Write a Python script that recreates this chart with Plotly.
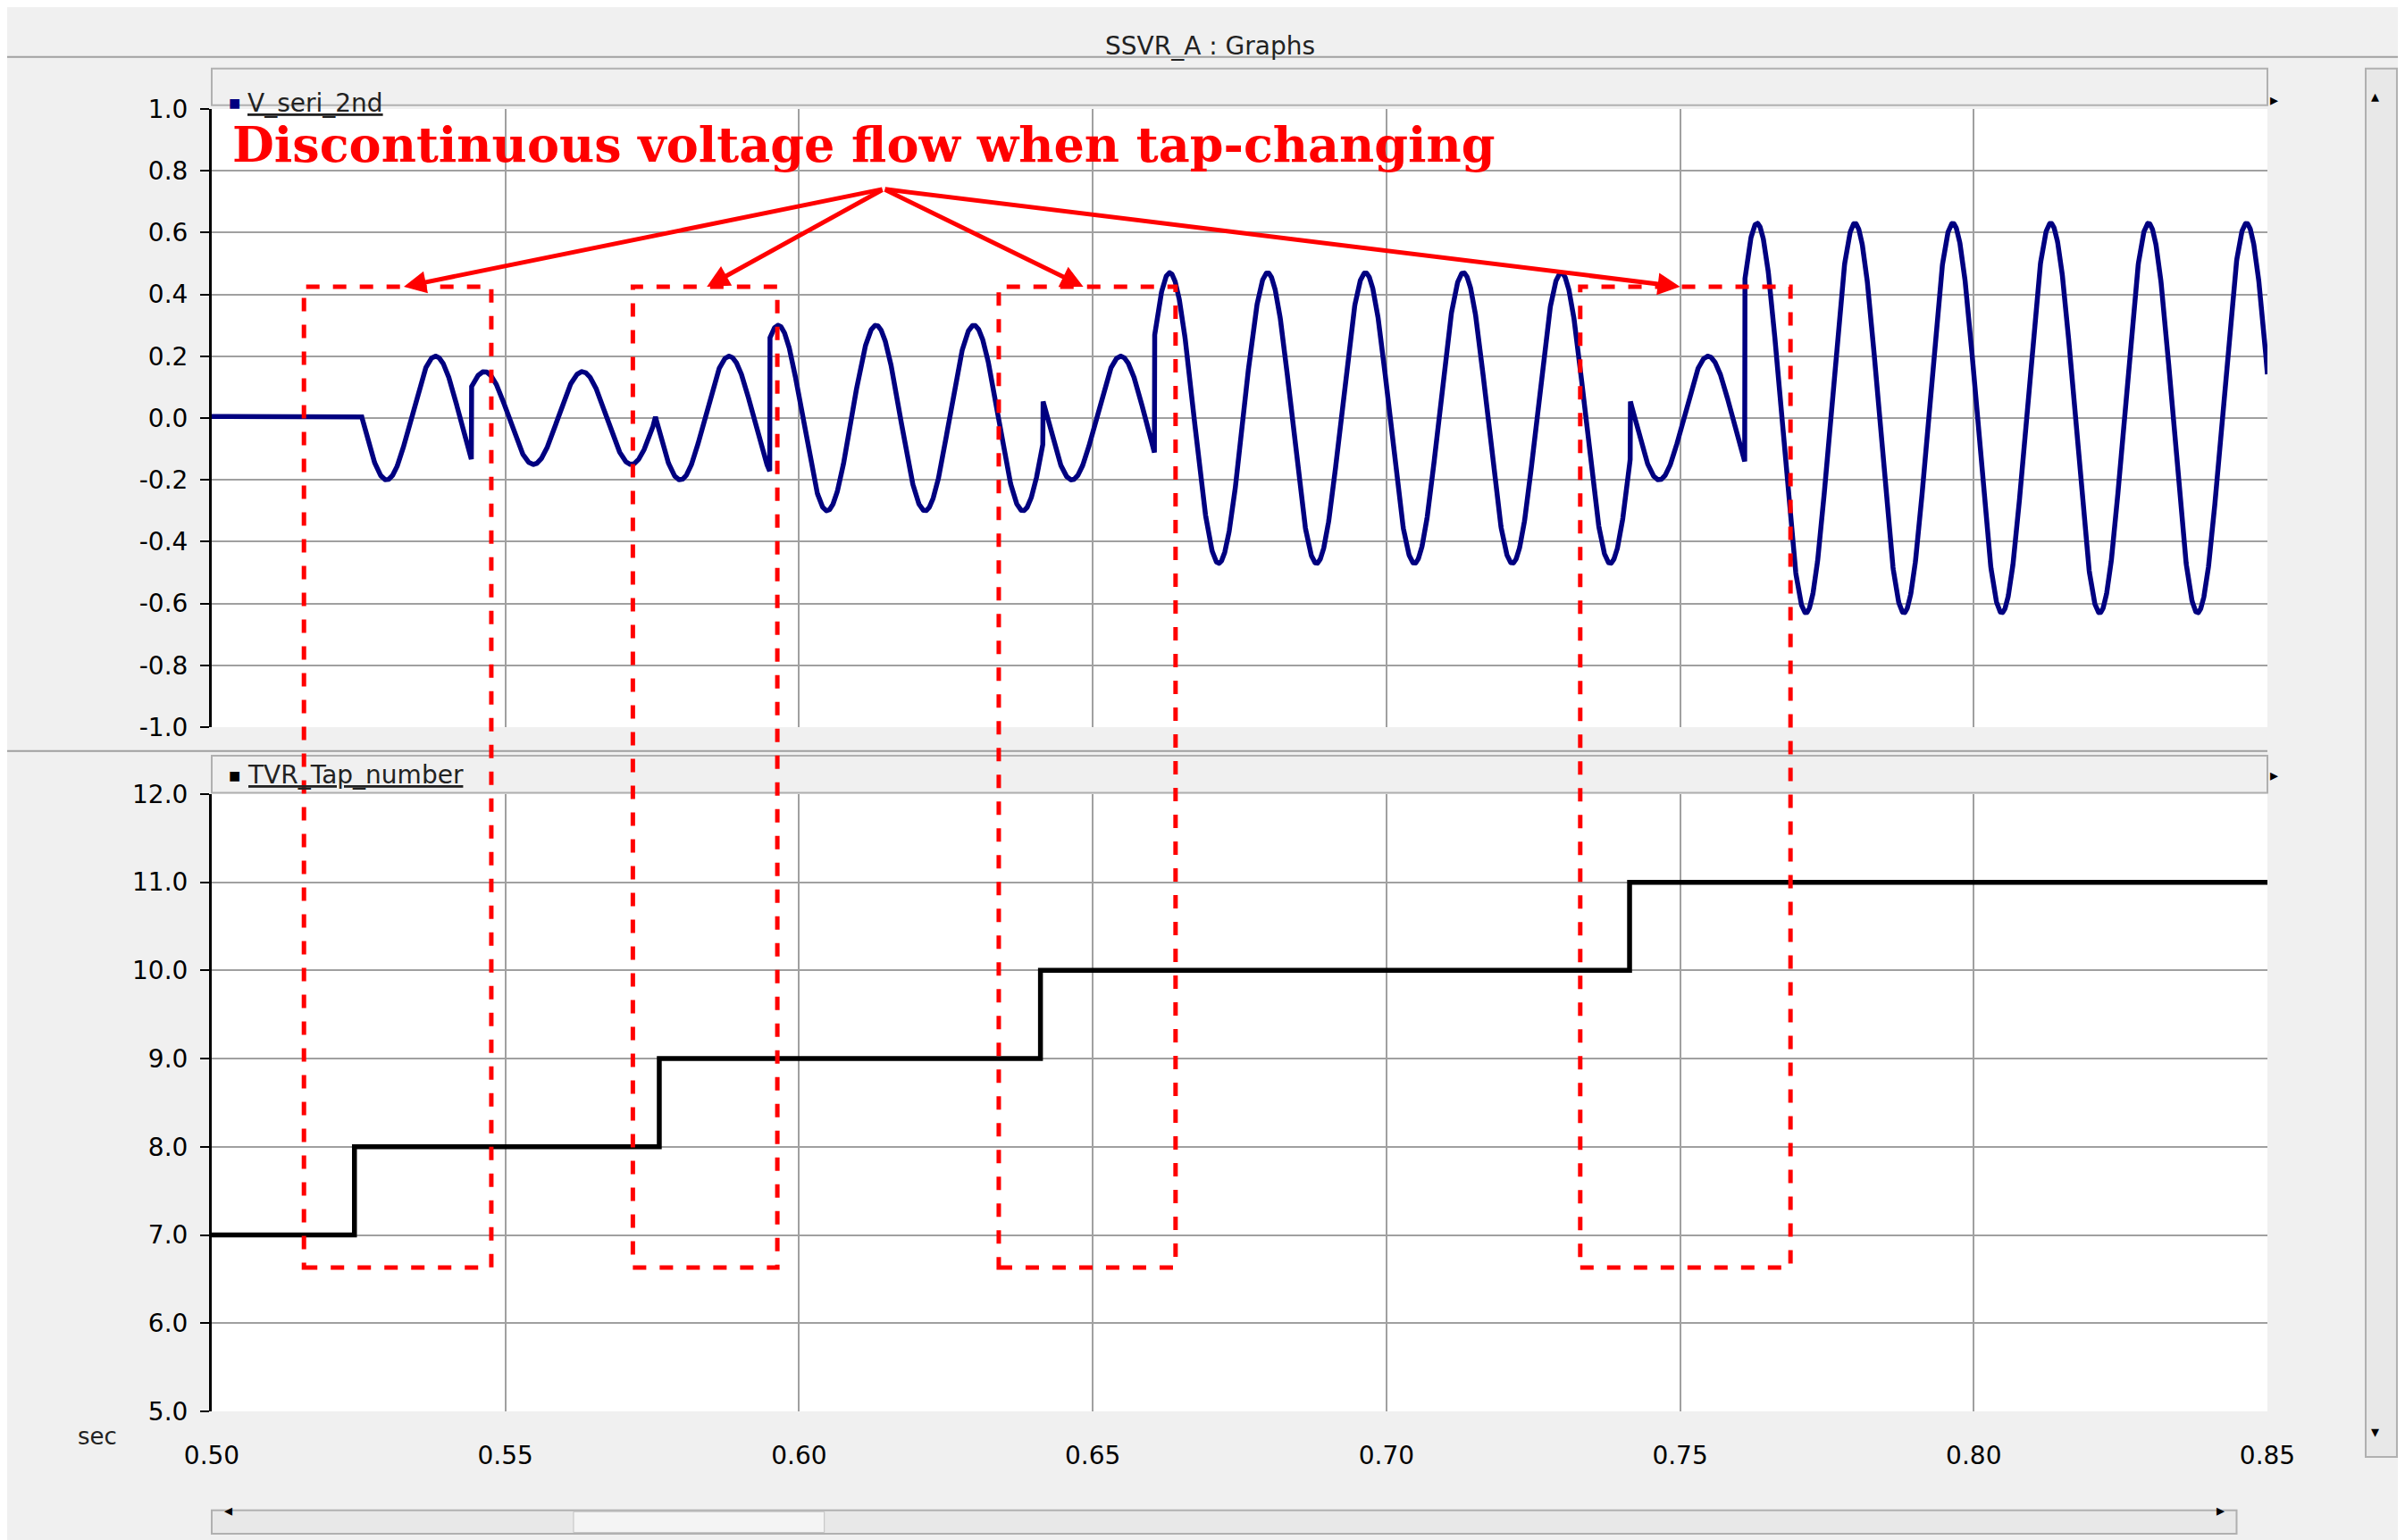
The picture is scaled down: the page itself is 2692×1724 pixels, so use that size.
import numpy as np
import plotly.graph_objects as go

# ---- data ----
seg_start = [0.5, 0.5255, 0.5442, 0.5755, 0.5950, 0.6415, 0.6605, 0.7415, 0.7610]
seg_amp = [0.0, 0.2, 0.15, 0.2, 0.3, 0.2, 0.47, 0.2, 0.63]
seg_sign = [1, -1, 1, -1, 1, -1, 1, -1, 1]
peak_ref = 0.7631  # time of a positive peak
freq = 60.0
tap_times = [0.5, 0.5243, 0.5762, 0.6411, 0.7414, 0.85]
tap_values = [7, 8, 9, 10, 11, 11]
box_x = [(0.5157, 0.5476), (0.5717, 0.5963), (0.6340, 0.6641), (0.7330, 0.7688)]
arrow_heads = [0.5327, 0.5843, 0.6484, 0.7500]
x_ticks = [0.50, 0.55, 0.60, 0.65, 0.70, 0.75, 0.80, 0.85]
y1_ticks = [1.0, 0.8, 0.6, 0.4, 0.2, 0.0, -0.2, -0.4, -0.6, -0.8, -1.0]
y2_ticks = [12.0, 11.0, 10.0, 9.0, 8.0, 7.0, 6.0, 5.0]

t = np.arange(0.5, 0.85 + 1e-9, 0.00005)
v = np.zeros_like(t)
bounds = seg_start + [0.86]
for i in range(len(seg_start)):
    m = (t >= bounds[i]) & (t < bounds[i + 1])
    if seg_amp[i] == 0:
        v[m] = 0.005
    else:
        v[m] = seg_sign[i] * seg_amp[i] * np.cos(2 * np.pi * freq * (t[m] - peak_ref))

W, H = 2692, 1724
fig = go.Figure()
fig.add_trace(go.Scatter(x=t, y=v, mode="lines", line=dict(color="#000080", width=5.5),
                         xaxis="x", yaxis="y", showlegend=False))
fig.add_trace(go.Scatter(x=tap_times, y=tap_values, mode="lines", line_shape="hv",
                         line=dict(color="black", width=5.5), xaxis="x2", yaxis="y2", showlegend=False))

tickfont = dict(family="DejaVu Sans", size=28, color="black")
axcommon = dict(range=[0.5, 0.85], tickvals=x_ticks, showgrid=True, gridcolor="#a0a0a0",
                gridwidth=2, zeroline=False, showline=False)
yc = dict(showgrid=True, gridcolor="#a0a0a0", gridwidth=2, zeroline=False, showline=True,
          linecolor="black", linewidth=3, ticks="outside", ticklen=10, tickwidth=2,
          tickcolor="black", tickfont=tickfont, ticklabelstandoff=8)
fig.update_layout(
    width=W, height=H, paper_bgcolor="#f0f0f0", plot_bgcolor="white",
    margin=dict(l=229, r=162, t=114, b=152),
    xaxis=dict(axcommon, domain=[0, 1], anchor="y", showticklabels=False),
    xaxis2=dict(axcommon, domain=[0, 1], anchor="y2", matches="x",
                ticktext=[f"{x:.2f}" for x in x_ticks],
                tickfont=tickfont, ticklabelstandoff=30, ticks=""),
    yaxis=dict(yc, domain=[0.5254, 1], range=[-1, 1], tickvals=y1_ticks,
               ticktext=[f"{y:.1f}".replace("-0.0", "0.0") for y in y1_ticks], anchor="x"),
    yaxis2=dict(yc, domain=[0, 0.474], range=[5, 12], tickvals=y2_ticks,
                ticktext=[f"{y:.1f}" for y in y2_ticks], anchor="x2"),
)

shapes = []
shapes.append(dict(type="rect", xref="paper", yref="paper", x0=-0.2, x1=1.2, y0=1.0782, y1=1.1, fillcolor="white", line_width=0, layer="below"))
shapes.append(dict(type="line", xref="paper", yref="paper", x0=-0.1, x1=1.066, y0=1.04, y1=1.04, line=dict(color="#a0a0a0", width=2)))
for y0, y1 in [(1.003, 1.031), (0.4749, 0.5034)]:
    shapes.append(dict(type="rect", xref="paper", yref="paper", x0=0, x1=1, y0=y0, y1=y1,
                       fillcolor="#f0f0f0", line=dict(color="#b0b0b0", width=2)))
shapes.append(dict(type="line", xref="paper", yref="paper", x0=-0.1, x1=1.0, y0=0.507, y1=0.507, line=dict(color="#a0a0a0", width=2)))
shapes.append(dict(type="rect", xref="paper", yref="paper", x0=1.0478, x1=1.0630, y0=-0.035, y1=1.031,
                   fillcolor="#e8e8e8", line=dict(color="#b0b0b0", width=2)))
shapes.append(dict(type="rect", xref="paper", yref="paper", x0=0, x1=0.985, y0=-0.094, y1=-0.076,
                   fillcolor="#e8e8e8", line=dict(color="#b0b0b0", width=2)))
shapes.append(dict(type="rect", xref="paper", yref="paper", x0=0.176, x1=0.298, y0=-0.093, y1=-0.077,
                   fillcolor="#f4f4f4", line=dict(color="#c0c0c0", width=1)))
for x0, x1 in box_x:
    shapes.append(dict(type="rect", xref="x", yref="paper", x0=x0, x1=x1, y0=0.1104, y1=0.8635,
                       line=dict(color="#ff0000", width=5, dash="dash"), fillcolor="rgba(0,0,0,0)"))
fig.update_layout(shapes=shapes)

ann = []
ann.append(dict(text="SSVR_A : Graphs", xref="paper", yref="paper", x=0.4857, y=1.061, showarrow=False,
                font=dict(family="DejaVu Sans", size=28, color="#222")))
ann.append(dict(text="■", xref="paper", yref="paper", x=0.0075, y=1.017, showarrow=False,
                font=dict(size=22, color="#000080")))
ann.append(dict(text="<u>V_seri_2nd</u>", xref="paper", yref="paper", x=0.0165, y=1.017, xanchor="left",
                showarrow=False, font=dict(family="DejaVu Sans", size=28, color="#222")))
ann.append(dict(text="■", xref="paper", yref="paper", x=0.0075, y=0.489, showarrow=False,
                font=dict(size=22, color="black")))
ann.append(dict(text="<u>TVR_Tap_number</u>", xref="paper", yref="paper", x=0.0165, y=0.489, xanchor="left",
                showarrow=False, font=dict(family="DejaVu Sans", size=28, color="#222")))
ann.append(dict(text="sec", xref="paper", yref="paper", x=-0.066, y=-0.031, showarrow=False,
                font=dict(family="DejaVu Sans", size=26, color="#222")))
ann.append(dict(text="<b>Discontinuous voltage flow when tap-changing</b>", xref="x", yref="y",
                x=0.5032, y=0.885, xanchor="left", showarrow=False,
                font=dict(family="DejaVu Serif", size=54, color="#ff0000")))
for xh in arrow_heads:
    ann.append(dict(x=xh, y=0.425, xref="x", yref="y", ax=0.6144, ay=0.741, axref="x", ayref="y",
                    showarrow=True, arrowhead=2, arrowsize=1.0, arrowwidth=5, arrowcolor="#ff0000", text=""))
for txt, x, y in [("▸", 1.006, 1.017), ("▸", 1.006, 0.489), ("▴", 1.0554, 1.02), ("▾", 1.0554, -0.025),
                  ("◂", 0.005, -0.085), ("▸", 0.98, -0.085)]:
    ann.append(dict(text=txt, xref="paper", yref="paper", x=x, y=y, showarrow=False,
                    font=dict(size=18, color="black")))
fig.update_layout(annotations=ann)
fig.write_html("out.html")
